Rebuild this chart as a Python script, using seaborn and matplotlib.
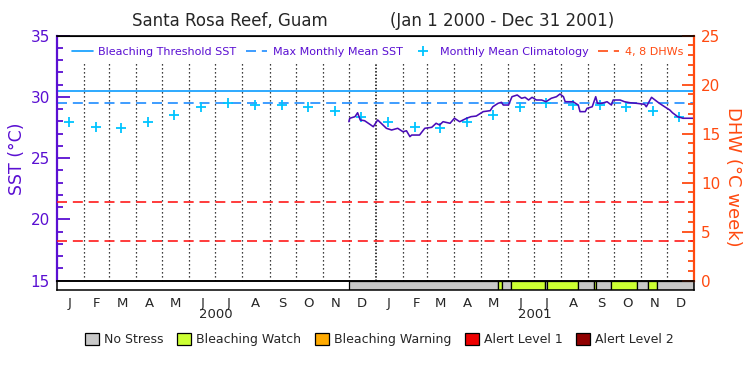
import numpy as np
import pandas as pd
import matplotlib
matplotlib.use("Agg")
import matplotlib.pyplot as plt
import matplotlib.dates as mdates
import matplotlib.transforms as mtransforms
from matplotlib.lines import Line2D
from matplotlib.patches import Patch
from matplotlib.ticker import MultipleLocator
import seaborn as sns

sns.set_style("white")
plt.rcParams["font.family"] = ["DejaVu Sans"]

# --- data ---
title_site = "Santa Rosa Reef, Guam"
title_period = "(Jan 1 2000 - Dec 31 2001)"

month_letters = ["J", "F", "M", "A", "M", "J", "J", "A", "S", "O", "N", "D"]
years = ["2000", "2001"]

# monthly mean climatology (deg C), Jan..Dec, same for both years
clim_sst = [27.93, 27.57, 27.49, 27.93, 28.50, 29.16, 29.48, 29.32, 29.32, 29.16, 28.88, 28.34]
mmm_sst = 29.48
threshold_sst = 30.52
dhw_levels = [4, 8]

sst_dates = [
    "2000-12-01", "2000-12-02", "2000-12-08", "2000-12-11", "2000-12-14", "2000-12-19",
    "2000-12-25", "2000-12-29", "2001-01-03", "2001-01-07", "2001-01-13", "2001-01-19",
    "2001-01-26", "2001-02-01", "2001-02-05", "2001-02-09", "2001-02-11", "2001-02-20",
    "2001-02-26", "2001-03-06", "2001-03-11", "2001-03-15", "2001-03-19", "2001-03-27",
    "2001-04-01", "2001-04-07", "2001-04-15", "2001-04-20", "2001-04-26", "2001-05-04",
    "2001-05-12", "2001-05-15", "2001-05-21", "2001-05-25", "2001-05-27", "2001-06-02",
    "2001-06-06", "2001-06-12", "2001-06-17", "2001-06-21", "2001-06-25", "2001-06-29",
    "2001-07-04", "2001-07-10", "2001-07-15", "2001-07-21", "2001-07-27", "2001-07-31",
    "2001-08-04", "2001-08-06", "2001-08-15", "2001-08-21", "2001-08-23", "2001-08-29",
    "2001-08-31", "2001-09-06", "2001-09-08", "2001-09-10", "2001-09-12", "2001-09-17",
    "2001-09-23", "2001-09-28", "2001-09-30", "2001-10-08", "2001-10-13", "2001-10-19",
    "2001-10-27", "2001-11-05", "2001-11-07", "2001-11-13", "2001-11-17", "2001-11-22",
    "2001-11-28", "2001-12-04", "2001-12-07", "2001-12-13", "2001-12-19", "2001-12-31",
]
sst_values = [
    27.98, 28.26, 28.39, 28.71, 28.12, 28.06,
    27.77, 27.57, 28.12, 27.85, 27.44, 27.30,
    27.44, 27.16, 27.24, 26.76, 26.89, 26.89,
    27.44, 27.52, 27.85, 27.71, 27.98, 27.85,
    28.26, 27.98, 28.26, 28.39, 28.44, 28.80,
    28.88, 29.20, 29.48, 29.56, 29.34, 29.34,
    30.02, 30.16, 29.89, 29.97, 29.75, 29.97,
    29.75, 29.75, 29.61, 29.89, 30.02, 30.24,
    30.02, 29.61, 29.61, 29.34, 28.80, 28.80,
    29.07, 29.20, 29.61, 30.02, 29.48, 29.48,
    29.61, 29.34, 29.75, 29.75, 29.61, 29.53,
    29.48, 29.40, 29.20, 29.97, 29.75, 29.48,
    29.20, 28.93, 28.71, 28.39, 28.26, 28.26,
]

# stress level segments (index into stress_names)
status_starts = ["2000-12-01", "2001-05-21", "2001-05-26", "2001-06-05", "2001-07-14",
                 "2001-07-16", "2001-08-21", "2001-09-08", "2001-09-10", "2001-09-28",
                 "2001-10-27", "2001-11-09", "2001-11-19"]
status_levels = [0, 1, 0, 1, 0, 1, 0, 1, 0, 1, 0, 1, 0]
status_end = "2002-01-01"

stress_names = ["No Stress", "Bleaching Watch", "Bleaching Warning", "Alert Level 1", "Alert Level 2"]
stress_colors = ["#c8c8c8", "#ccff33", "#ffaa00", "#ee0000", "#900000"]

# --- colours ---
purple = "#5a0fd2"
line_purple = "#4a0cb8"
orange = "#ff4a10"
thresh_color = "#0a9cff"
mmm_color = "#1e8cff"
clim_color = "#00c4ff"
dhw_color = "#ff1a1a"
dash = (0, (6, 3.5))

# --- derived positions ---
x_start = mdates.date2num(pd.Timestamp("2000-01-01"))
x_end = mdates.date2num(pd.Timestamp("2002-01-01"))
sst_x = mdates.date2num(pd.to_datetime(sst_dates))
month_starts = pd.date_range("2000-01-01", "2001-12-01", freq="MS")
clim_x = mdates.date2num(month_starts + pd.Timedelta(days=14))
clim_y = np.tile(clim_sst, len(years))
mid_month = mdates.date2num(month_starts + pd.Timedelta(days=15))

seg_left = mdates.date2num(pd.to_datetime(status_starts))
seg_right = np.append(seg_left[1:], mdates.date2num(pd.Timestamp(status_end)))

fig = plt.figure(figsize=(7.5, 3.75), dpi=100)
ax = fig.add_axes([0.0756, 0.2515, 0.8501, 0.6533])
ax_bar = fig.add_axes([0.0756, 0.2267, 0.8501, 0.0248])
ax_r = ax.twinx()

# month grid
for d in month_starts[1:]:
    dense = d.month == 1
    ax.axvline(mdates.date2num(d), ymin=0, ymax=0.89, color="black",
               lw=1.1 if dense else 0.9, ls=(0, (1, 1.2)) if dense else (0, (1, 2.2)))

ax.axhline(threshold_sst, color=thresh_color, lw=1.2)
ax.axhline(mmm_sst, color=mmm_color, lw=1.2, ls=dash)
for lvl in dhw_levels:
    ax_r.axhline(lvl, color=dhw_color, lw=1.2, ls=dash)

sns.scatterplot(x=clim_x, y=clim_y, ax=ax, marker="+", s=50, color=clim_color,
                linewidth=1.3, legend=False, zorder=3)
sns.lineplot(x=sst_x, y=sst_values, ax=ax, color=line_purple, linewidth=1.15, zorder=4)

ax.set_xlim(x_start, x_end)
ax.set_ylim(15, 35)
ax_r.set_ylim(0, 25)
ax.set_xticks([])
ax_r.set_xticks([])

ax.yaxis.set_major_locator(MultipleLocator(5))
ax.yaxis.set_minor_locator(MultipleLocator(1))
ax.tick_params(axis="y", which="major", direction="in", length=9, width=1.3,
               color=purple, labelcolor=purple, labelsize=11, pad=5, left=True)
ax.tick_params(axis="y", which="minor", direction="in", length=4.5, width=1.3,
               color=purple, left=True)
ax_r.yaxis.set_major_locator(MultipleLocator(5))
ax_r.yaxis.set_minor_locator(MultipleLocator(1))
ax_r.tick_params(axis="y", which="major", direction="in", length=9, width=1.3,
                 color=orange, labelcolor=orange, labelsize=11, pad=5, right=True)
ax_r.tick_params(axis="y", which="minor", direction="in", length=4.5, width=1.3,
                 color=orange, right=True)

for a in (ax, ax_r):
    a.spines["top"].set_color("black")
    a.spines["bottom"].set_color("black")
ax.spines["left"].set_color(purple)
ax.spines["left"].set_linewidth(1.6)
ax.spines["right"].set_visible(False)
ax_r.spines["left"].set_visible(False)
ax_r.spines["right"].set_color(orange)
ax_r.spines["right"].set_linewidth(1.6)
ax_r.spines["top"].set_linewidth(1.2)
ax_r.spines["bottom"].set_linewidth(1.2)

handles = [
    Line2D([], [], color=thresh_color, lw=1.2),
    Line2D([], [], color=mmm_color, lw=1.2, ls=dash),
    Line2D([], [], color=clim_color, marker="+", ls="none", markersize=7, mew=1.3),
    Line2D([], [], color=orange, lw=1.2, ls=dash),
]
labels = ["Bleaching Threshold SST", "Max Monthly Mean SST", "Monthly Mean Climatology", "4, 8 DHWs"]
leg = ax_r.legend(handles, labels, ncol=4, loc="center", bbox_to_anchor=(0.503, 0.935),
                  frameon=False, fontsize=8.0, handlelength=1.9, handletextpad=0.5,
                  columnspacing=0.9, borderpad=0)
for t, c in zip(leg.get_texts(), [purple, purple, purple, orange]):
    t.set_color(c)

# stress status bar
ax_bar.barh(0, seg_right - seg_left, left=seg_left, height=1,
            color=[stress_colors[l] for l in status_levels], edgecolor="black", linewidth=0.9)
ax_bar.set_xlim(x_start, x_end)
ax_bar.set_ylim(-0.5, 0.5)
ax_bar.set_yticks([])
ax_bar.set_xticks(mid_month)
ax_bar.set_xticklabels(month_letters * len(years))
ax_bar.tick_params(axis="x", length=0, pad=5, labelsize=9.5)
for s in ax_bar.spines.values():
    s.set_color("black")
    s.set_linewidth(1.1)

trans = mtransforms.blended_transform_factory(ax_bar.transData, fig.transFigure)
for yr in years:
    ax_bar.text(mdates.date2num(pd.Timestamp(f"{yr}-07-02")), 0.16, yr, transform=trans,
                ha="center", va="center", fontsize=9.5)

patches = [Patch(facecolor=c, edgecolor="black", linewidth=0.9) for c in stress_colors]
fig.legend(patches, stress_names, ncol=5, loc="center", bbox_to_anchor=(0.506, 0.0947),
           frameon=False, fontsize=9, handlelength=1.1, handleheight=1.1,
           handletextpad=0.4, columnspacing=1.1)

fig.text(229.5 / 750, 1 - 21 / 375, title_site, ha="center", va="center", fontsize=12)
fig.text(502 / 750, 1 - 21 / 375, title_period, ha="center", va="center", fontsize=12)
fig.text(17 / 750, 0.5773, "SST (°C)", rotation=90, ha="center", va="center",
         fontsize=12.5, color=purple)
fig.text(733 / 750, 1 - 177 / 375, "DHW (°C week)", rotation=270, ha="center", va="center",
         fontsize=13, color=orange)

fig.savefig("out.png", dpi=100)
